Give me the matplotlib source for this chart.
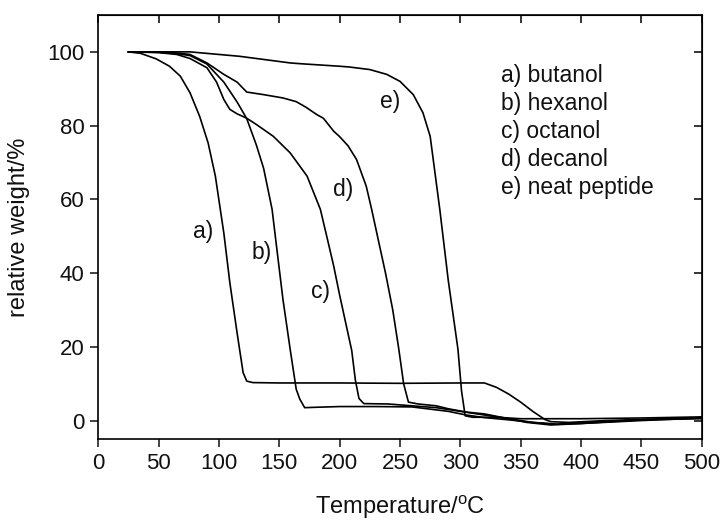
import matplotlib
matplotlib.use("Agg")
import matplotlib.pyplot as plt

plt.rcParams['font.family'] = ['Liberation Sans', 'DejaVu Sans']

# a) butanol
a_T = [25, 35, 48, 59, 68, 76, 84, 91, 97, 101, 104, 109, 115, 120, 123, 128, 150, 200, 250, 300, 320, 330, 340, 350, 360, 370, 375, 390, 420, 450, 500]
a_W = [100, 99.6, 98.1, 96.1, 93.4, 88.9, 82.5, 75.3, 66.3, 57.5, 50.9, 37.4, 23.8, 13, 10.7, 10.3, 10.2, 10.2, 10.1, 10.2, 10.2, 9, 7.2, 5, 2.5, 0.3, -0.3, -0.5, 0, 0.3, 0.8]
# b) hexanol
b_T = [25, 50, 65, 76, 90, 104, 115, 123, 131, 137, 144, 148, 153, 159, 164, 167, 171, 180, 200, 230, 260, 270, 290, 305, 320, 340, 360, 380, 400, 450, 500]
b_W = [100, 99.9, 99.5, 99, 96.7, 91.8, 86.4, 81.9, 74.7, 68.4, 57.3, 46.4, 32.9, 19.3, 8.5, 5.8, 3.5, 3.6, 3.8, 3.8, 3.7, 3.3, 2.5, 1.5, 0.8, 0.2, -0.5, -1, -0.8, 0, 0.7]
# c) octanol
c_T = [25, 50, 65, 76, 90, 98, 104, 109, 115, 123, 131, 145, 159, 173, 184, 190, 195, 200, 205, 210, 213, 216, 220, 240, 260, 280, 300, 320, 340, 360, 380, 400, 450, 500]
c_W = [100, 99.8, 99.3, 98.2, 95.7, 91.8, 87.1, 84.4, 83.2, 82, 80.3, 77.1, 72.6, 66.3, 57.3, 49, 42, 34, 26.5, 19, 11, 6, 4.6, 4.5, 4.0, 3.5, 2.5, 1.5, 0.5, -0.5, -1, -0.5, 0.2, 0.5]
# d) decanol
d_T = [25, 50, 65, 76, 90, 104, 115, 123, 137, 153, 164, 172, 181, 186.5, 195, 200, 207, 214, 222, 226.5, 232, 238, 244, 249, 253, 257, 265, 280, 290, 305, 320, 340, 355, 375, 400, 450, 500]
d_W = [100, 99.9, 99.7, 99.3, 97, 93.9, 91.8, 89.1, 88.4, 87.5, 86.5, 85, 83, 82, 78.5, 77, 74.5, 70.8, 63.6, 57.3, 49, 40, 30, 19.4, 10, 5, 4.5, 4, 3.2, 2.3, 1.8, 0.5, -0.5, -1.2, -0.8, 0.2, 0.8]
# e) neat peptide
e_T = [25, 76, 117, 159, 167, 200, 208, 225, 239, 250, 261, 269, 275, 283, 290, 298, 301, 304, 310, 330, 350, 370, 400, 450, 500]
e_W = [100, 100, 98.8, 97, 96.8, 96.1, 95.9, 95.2, 93.9, 92.0, 88.4, 83.5, 77.1, 57.2, 38, 19.4, 8, 1.3, 0.9, 0.9, 0.5, 0.5, 0.5, 0.7, 1.0]

curve_labels = ["a)", "b)", "c)", "d)", "e)"]
label_T = [87, 135.5, 184, 203, 242]
label_W = [51.4, 45.5, 35, 62.7, 86.6]

legend_lines = ["a) butanol", "b) hexanol", "c) octanol", "d) decanol", "e) neat peptide"]
legend_T = 334
legend_W = [93.6, 86.0, 78.4, 70.8, 63.2]

xticks = [0, 50, 100, 150, 200, 250, 300, 350, 400, 450, 500]
yticks = [0, 20, 40, 60, 80, 100]

fig = plt.figure(figsize=(7.25, 5.22), dpi=100)
ax = fig.add_axes([98.3 / 725, 1 - 439 / 522, (701.7 - 98.3) / 725, (439 - 15) / 522])

for T, W in [(a_T, a_W), (b_T, b_W), (c_T, c_W), (d_T, d_W), (e_T, e_W)]:
    ax.plot(T, W, color='black', lw=1.2, solid_joinstyle='round')

for s, t, w in zip(curve_labels, label_T, label_W):
    ax.text(t, w, s, fontsize=16.5, ha='center', va='center', color='#111111')

for s, w in zip(legend_lines, legend_W):
    ax.text(legend_T, w, s, fontsize=16.5, ha='left', va='center', color='#111111')

ax.set_xlim(0, 500)
ax.set_ylim(-5, 110)
ax.set_xticks(xticks)
ax.set_yticks(yticks)
ax.tick_params(direction='out', length=6, width=1.1, labelsize=16, pad=4, colors='#111111')
for sp in ax.spines.values():
    sp.set_linewidth(1.2)

top = ax.secondary_xaxis('top')
top.set_xticks(xticks)
top.tick_params(direction='in', length=6, width=1.1, labeltop=False)
right = ax.secondary_yaxis('right')
right.set_yticks(yticks)
right.tick_params(direction='in', length=6, width=1.1, labelright=False)

ax.set_xlabel('Temperature/$\\mathregular{^{o}}$C', fontsize=17, labelpad=14, color='#111111')
ax.set_ylabel('relative weight/%', fontsize=17, labelpad=12, color='#111111')

fig.savefig('out.png', dpi=100)
